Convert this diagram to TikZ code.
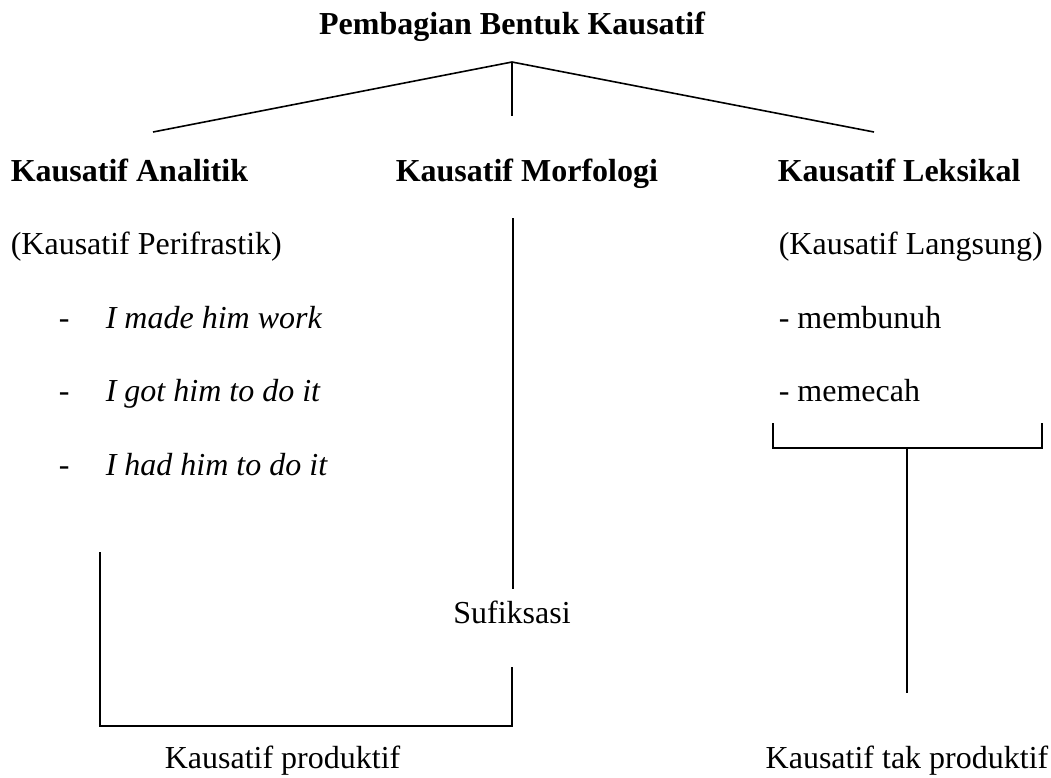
\documentclass[tikz,border=0pt]{standalone}
\usepackage{fontspec}
\setmainfont{Liberation Serif}
\begin{document}
\begin{tikzpicture}[x=0.375pt, y=-0.375pt, line width=0.6pt,
        txt/.style={anchor=base west, inner sep=0pt, font=\fontsize{12}{14}\selectfont},
        head/.style={txt, font=\fontsize{12}{14}\selectfont\bfseries}]
                \useasboundingbox (0, 0) rectangle (1051, 777);

                \node[head, anchor=base] (title) at (512, 34) {Pembagian Bentuk Kausatif};

                \node[head] (analitik) at (10, 181) {Kausatif Analitik};

                \node[head] (morfologi) at (395, 181) {Kausatif Morfologi};

                \node[head] (leksikal) at (777, 181) {Kausatif Leksikal};

                \coordinate (apex) at (512, 62);
                \coordinate (apexL) at (153, 132);
                \coordinate (apexM) at (512, 116);
                \coordinate (apexR) at (874, 132);

                \draw (apex) -- (apexL);

                \draw (apex) -- (apexM);

                \draw (apex) -- (apexR);

                % kolom kiri
                \node[txt] (perifrastik) at (10, 254) {(Kausatif Perifrastik)};

                \node[txt] (dashA) at (58, 328) {-};
                \node[txt] (made) at (105, 328) {\itshape I made him work};

                \node[txt] (dashB) at (58, 401) {-};
                \node[txt] (got) at (105, 401) {\itshape I got him to do it};

                \node[txt] (dashC) at (58, 475) {-};
                \node[txt] (had) at (105, 475) {\itshape I had him to do it};

                % kolom kanan
                \node[txt] (langsung) at (778, 254) {(Kausatif Langsung)};

                \node[txt] (membunuh) at (778, 328) {- membunuh};

                \node[txt] (memecah) at (778, 401) {- memecah};

                % tengah
                \node[txt, anchor=base] (sufiksasi) at (512, 623) {Sufiksasi};

                \coordinate (morfTop) at (513, 218);
                \coordinate (sufTop) at (513, 589);
                \coordinate (sufBot) at (512, 667);

                \draw (morfTop) -- (sufTop);

                % kurung bawah
                \coordinate (prodL) at (100, 552);
                \coordinate (prodLB) at (100, 726);
                \coordinate (prodRB) at (512, 726);

                \draw (prodL) -- (prodLB) -- (prodRB) -- (sufBot);

                \node[txt] (produktif) at (164, 768) {Kausatif produktif};

                % kurung kanan
                \coordinate (leksL) at (773, 423);
                \coordinate (leksLB) at (773, 448);
                \coordinate (leksRB) at (1042, 448);
                \coordinate (leksR) at (1042, 423);
                \coordinate (leksMid) at (907, 448);
                \coordinate (leksEnd) at (907, 693);

                \draw (leksL) -- (leksLB) -- (leksRB) -- (leksR);

                \draw (leksMid) -- (leksEnd);

                \node[txt, anchor=base] (takproduktif) at (907, 768) {Kausatif tak produktif};
            \end{tikzpicture}
\end{document}
